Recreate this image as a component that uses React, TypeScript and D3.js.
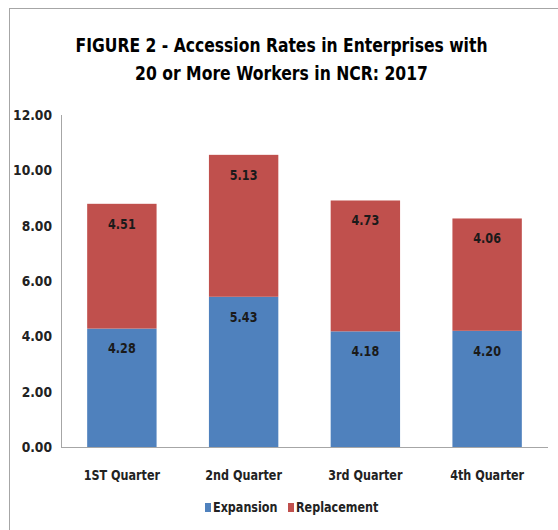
import { useLayoutEffect, useRef } from "react";
import * as d3 from "d3";

const quarters = ["1ST Quarter", "2nd Quarter", "3rd Quarter", "4th Quarter"];
const expansion = [4.28, 5.43, 4.18, 4.2];
const replacement = [4.51, 5.13, 4.73, 4.06];
const yTicks = [0, 2, 4, 6, 8, 10, 12];
const seriesNames = ["Expansion", "Replacement"];
const titleLines = ["FIGURE 2 - Accession Rates in Enterprises with", "20 or More Workers in NCR: 2017"];

const W = 558;
const H = 530;
const PLOT = { left: 61, right: 548, top: 115, bottom: 447 };
const COLORS = ["#4F81BD", "#C0504D"];
const FONT = "'DejaVu Sans', sans-serif";
// rendered widths of the two title lines in the source image
const TITLE_WIDTHS = [412, 293];

// the source uses a narrow bold face; squeeze DejaVu horizontally to match
function NarrowText({
  x,
  y,
  sx = 0.84,
  anchor = "start",
  children,
}: {
  x: number;
  y: number;
  sx?: number;
  anchor?: string;
  children: React.ReactNode;
}) {
  return (
    <text transform={`translate(${x},${y}) scale(${sx},1)`} textAnchor={anchor} dy="0.35em">
      {children}
    </text>
  );
}

export default function App() {
  const titleRef = useRef<SVGGElement>(null);

  const x = d3
    .scaleBand<string>()
    .domain(quarters)
    .range([PLOT.left, PLOT.right])
    .paddingInner(0.43)
    .paddingOuter(0.215);
  const y = d3.scaleLinear().domain([0, 12]).range([PLOT.bottom, PLOT.top]);
  const cx = (q: string) => (x(q) ?? 0) + x.bandwidth() / 2;

  // squeeze the title lines to the widths seen in the source
  useLayoutEffect(() => {
    if (!titleRef.current) return;
    d3.select(titleRef.current)
      .selectAll<SVGTextElement, unknown>("text")
      .each(function (_, i) {
        const natural = this.getComputedTextLength();
        const sx = natural > 0 ? TITLE_WIDTHS[i] / natural : 1;
        const ty = i === 0 ? 52 : 80;
        d3.select(this).attr("transform", `translate(281.5,${ty}) scale(${sx},1)`);
      });
  }, []);

  // stacked segments
  const stacks = quarters.map((q, i) => {
    const segs = [expansion[i], replacement[i]];
    let acc = 0;
    return segs.map((v, s) => {
      const y0 = acc;
      acc += v;
      return { q, s, v, y0, y1: acc };
    });
  });

  return (
    <svg
      width={W}
      height={H}
      style={{ position: "absolute", left: 0, top: 0, background: "#fff" }}
      fontFamily={FONT}
    >
      {/* outer frame */}
      <rect x={9.5} y={8.5} width={W + 20} height={H + 20} fill="#fff" stroke="#a6a6a6" />

      {/* title */}
      <g ref={titleRef} fontWeight="bold" fontSize={19.5} fill="#000" textAnchor="middle">
        {titleLines.map((t, i) => (
          <text key={i} transform={`translate(281.5,${i === 0 ? 52 : 80}) scale(0.78,1)`}>
            {t}
          </text>
        ))}
      </g>

      {/* bars */}
      {stacks.flat().map((d) => (
        <rect
          key={`${d.q}-${d.s}`}
          x={x(d.q)}
          width={x.bandwidth()}
          y={y(d.y1)}
          height={y(d.y0) - y(d.y1)}
          fill={COLORS[d.s]}
        />
      ))}

      {/* value labels (inside end) */}
      <g fontWeight="bold" fontSize={14} fill="#1a1a1a">
        {stacks.flat().map((d) => (
          <NarrowText key={`l-${d.q}-${d.s}`} x={cx(d.q)} y={y(d.y1) + 20} sx={0.8} anchor="middle">
            {d.v.toFixed(2)}
          </NarrowText>
        ))}
      </g>

      {/* axes */}
      <line x1={PLOT.left + 0.5} x2={PLOT.left + 0.5} y1={PLOT.top} y2={PLOT.bottom} stroke="#a6a6a6" />
      <line x1={PLOT.left} x2={PLOT.right} y1={PLOT.bottom + 0.5} y2={PLOT.bottom + 0.5} stroke="#a6a6a6" />

      <g fontWeight="bold" fontSize={14} fill="#222">
        {yTicks.map((t) => (
          <NarrowText key={t} x={52} y={y(t)} sx={0.88} anchor="end">
            {t.toFixed(2)}
          </NarrowText>
        ))}
      </g>

      <g fontWeight="bold" fontSize={14} fill="#222">
        {quarters.map((q) => (
          <NarrowText key={q} x={cx(q)} y={475} sx={0.8} anchor="middle">
            {q}
          </NarrowText>
        ))}
      </g>

      {/* legend */}
      <g fontWeight="bold" fontSize={14} fill="#222">
        {seriesNames.map((n, i) => {
          const lx = i === 0 ? 205 : 288;
          return (
            <g key={n}>
              <rect x={lx} y={503} width={6} height={9} fill={COLORS[i]} />
              <NarrowText x={lx + 8} y={507.5} sx={0.8}>
                {n}
              </NarrowText>
            </g>
          );
        })}
      </g>
    </svg>
  );
}
